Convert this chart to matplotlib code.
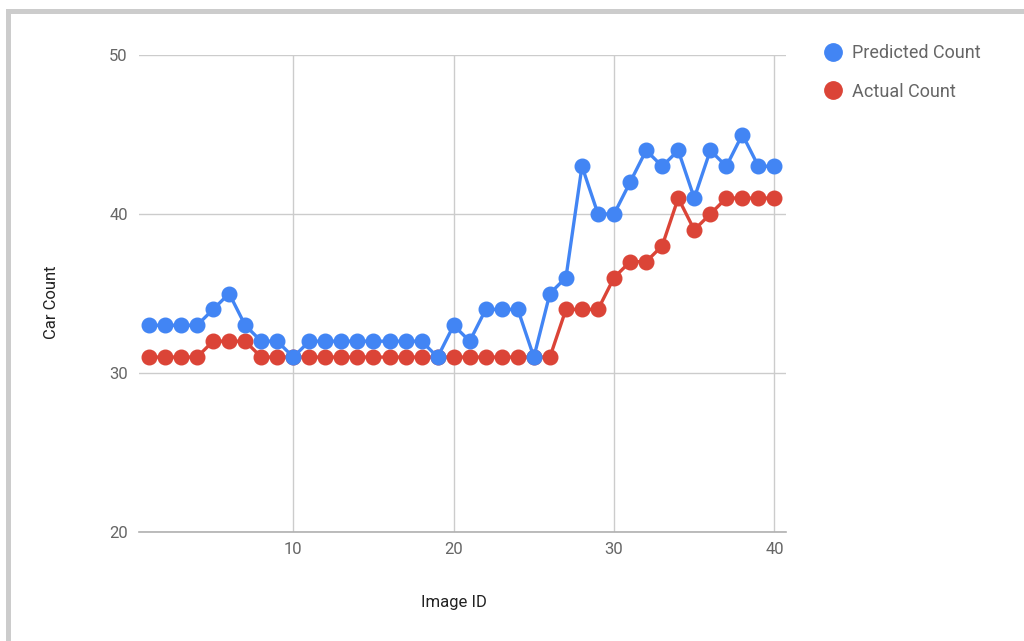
import matplotlib.pyplot as plt
from matplotlib.lines import Line2D
from matplotlib.patches import Rectangle

# car counts per image
image_id = list(range(1, 41))
predicted = [33, 33, 33, 33, 34, 35, 33, 32, 32, 31,
             32, 32, 32, 32, 32, 32, 32, 32, 31, 33,
             32, 34, 34, 34, 31, 35, 36, 43, 40, 40,
             42, 44, 43, 44, 41, 44, 43, 45, 43, 43]
actual = [31, 31, 31, 31, 32, 32, 32, 31, 31, 31,
          31, 31, 31, 31, 31, 31, 31, 31, 31, 31,
          31, 31, 31, 31, 31, 31, 34, 34, 34, 36,
          37, 37, 38, 41, 39, 40, 41, 41, 41, 41]
x_ticks = [10, 20, 30, 40]
y_ticks = [20, 30, 40, 50]

plt.rcParams['font.family'] = ['Roboto', 'DejaVu Sans']

W, H = 1024, 641
fig = plt.figure(figsize=(W / 100, H / 100), dpi=100)
fig.patch.set_facecolor('white')

# light grey frame on the left and top
fig.add_artist(Rectangle((6 / W, 0), 5 / W, 1 - 9 / H, transform=fig.transFigure,
                         facecolor='#cccccc', edgecolor='none'))
fig.add_artist(Rectangle((6 / W, 1 - 14 / H), 1, 5 / H, transform=fig.transFigure,
                         facecolor='#cccccc', edgecolor='none'))

ax = fig.add_axes([139 / W, 1 - 532 / H, 647 / W, 477 / H])

blue = '#4285f4'
red = '#db4437'
ax.plot(image_id, actual, color=red, lw=2.4, marker='o', ms=10.5, zorder=3)
ax.plot(image_id, predicted, color=blue, lw=2.4, marker='o', ms=10.5, zorder=4)

ax.set_xlim(0.38, 40.72)
ax.set_ylim(20, 50)
ax.set_xticks(x_ticks)
ax.set_yticks(y_ticks)
ax.grid(True, color='#cccccc', lw=1)
ax.set_axisbelow(True)
for s in ['top', 'right', 'left']:
    ax.spines[s].set_visible(False)
ax.spines['bottom'].set_color('#b0b0b0')
ax.spines['bottom'].set_linewidth(1.2)
ax.tick_params(length=0, labelsize=12, colors='#666666')
ax.tick_params(axis='y', pad=8)
ax.tick_params(axis='x', pad=7)

fig.text(52 / W, 1 - 302 / H, 'Car Count', rotation=90, ha='center', va='center',
         fontsize=12, color='#222222')
fig.text(454 / W, 1 - 603 / H, 'Image ID', ha='center', va='center',
         fontsize=12, color='#222222')

handles = [Line2D([], [], color=blue, marker='o', ls='none', ms=12.5),
           Line2D([], [], color=red, marker='o', ls='none', ms=12.5)]
leg = fig.legend(handles, ['Predicted Count', 'Actual Count'], loc='upper left',
                 bbox_to_anchor=(824 / W, 1 - 44 / H), frameon=False,
                 fontsize=13, handlelength=1.0, handletextpad=0.55,
                 labelspacing=1.15, borderpad=0, borderaxespad=0)
for t in leg.get_texts():
    t.set_color('#666666')

fig.savefig('out.png', dpi=100)
